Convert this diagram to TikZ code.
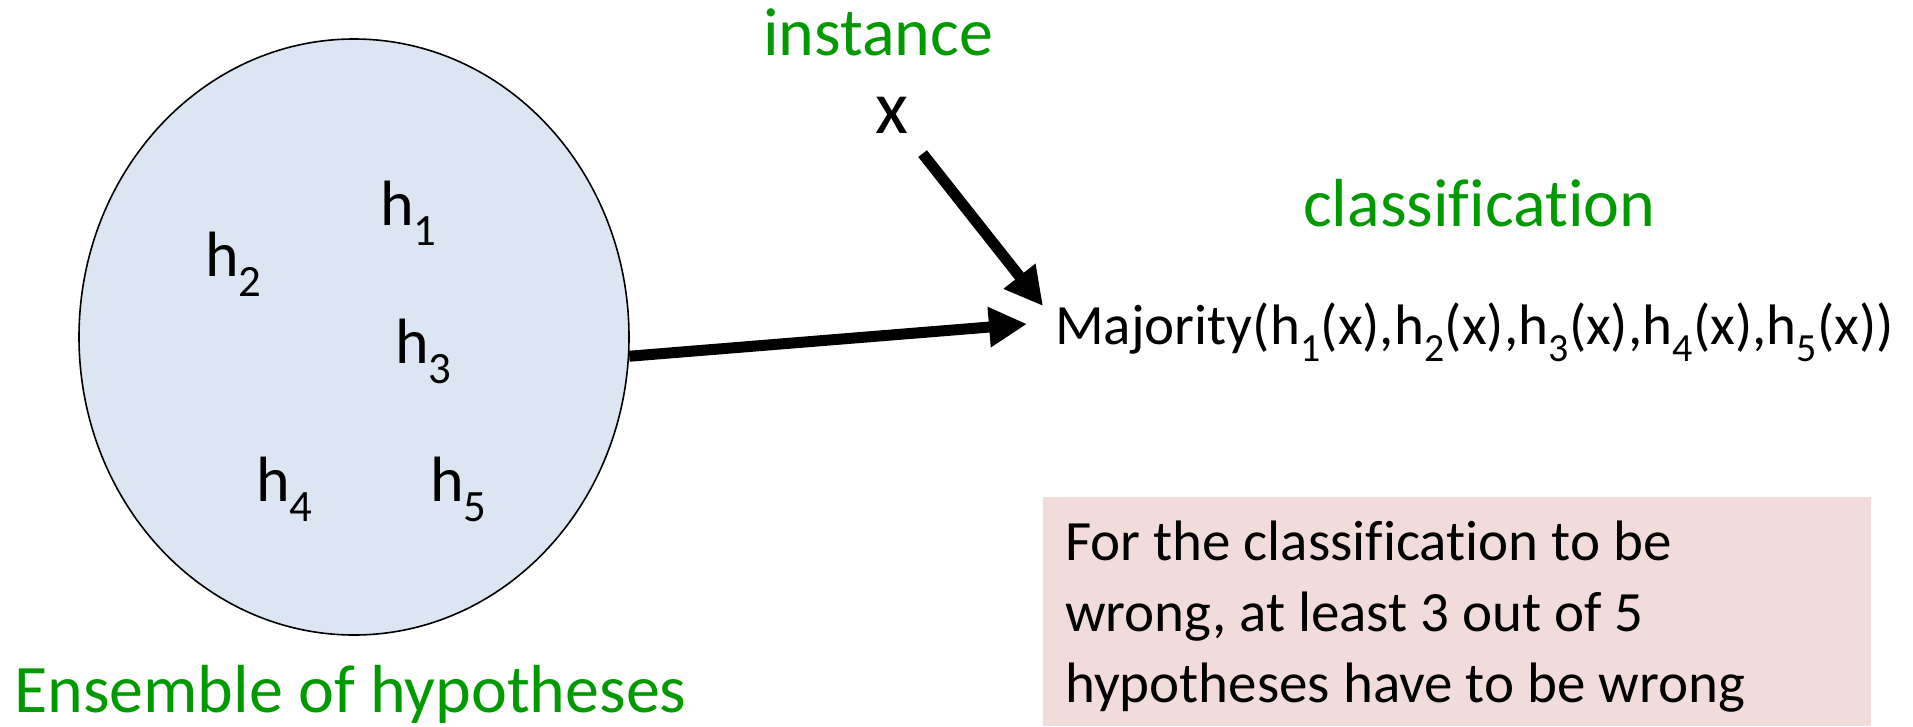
\documentclass[tikz,border=0pt]{standalone}
\usepackage{fontspec}
\setmainfont{Carlito}[Ligatures=NoCommon]
\usetikzlibrary{arrows.meta,shapes.geometric}
\definecolor{ensblue}{HTML}{DCE6F2}
\definecolor{notepink}{HTML}{F2DCDB}
\definecolor{labgreen}{RGB}{0,153,0}
\newcommand{\fsz}[1]{\fontsize{#1}{#1}\selectfont}
\newcommand{\hsub}[1]{h\textsubscript{#1}}
\begin{document}
\begin{tikzpicture}[x=1pt,y=-1pt,
  txt/.style={anchor=base west, inner sep=0pt},
  greenlab/.style={text=labgreen, font=\fsz{68}},
  hyp/.style={txt, font=\fsz{64}},
  bigarrow/.style={line width=11pt, -{Triangle[length=38pt,width=38pt]}}]
\useasboundingbox (0,0) rectangle (1913,726);
% ensemble
\node[ellipse, draw, line width=1.6pt, fill=ensblue, minimum width=550pt, minimum height=596pt, inner sep=0pt] (ens) at (354,337) {};
\node[hyp] (h1) at (380,225) {\hsub{1}};
\node[hyp] (h2) at (205,276) {\hsub{2}};
\node[hyp] (h3) at (395,363) {\hsub{3}};
\node[hyp] (h4) at (256,501) {\hsub{4}};
\node[hyp] (h5) at (430,501) {\hsub{5}};
\node[greenlab, txt] (enslab) at (14,712) {Ensemble of hypotheses};
% instance
\node[greenlab, anchor=base, inner sep=0pt] (inst) at (878,55) {instance};
\node[anchor=base, inner sep=0pt, font=\fsz{76}] (xin) at (892,133) {x};
% classification
\node[greenlab, txt] (cls) at (1303,226) {classification};
\node[txt, font=\fsz{57}] (maj) at (1055,344) {Majority(\hsub{1}(x),\hsub{2}(x),\hsub{3}(x),\hsub{4}(x),\hsub{5}(x))};
% note
\node[fill=notepink, anchor=north west, minimum width=828pt, minimum height=229pt, inner sep=0pt] (note) at (1043,497) {};
\node[anchor=north west, inner sep=0pt, align=left, font=\fontsize{57}{71}\selectfont] (notetext) at (1065,521)
  {For the classification to be\\wrong, at least 3 out of 5\\hypotheses have to be wrong};
% arrows
\coordinate (tipA) at (1027,324);
\coordinate (tipB) at (1043,306);
\draw[bigarrow] (ens.-4) -- (tipA);
\draw[bigarrow, shorten <=26pt] (xin) -- (tipB);
\end{tikzpicture}
\end{document}
